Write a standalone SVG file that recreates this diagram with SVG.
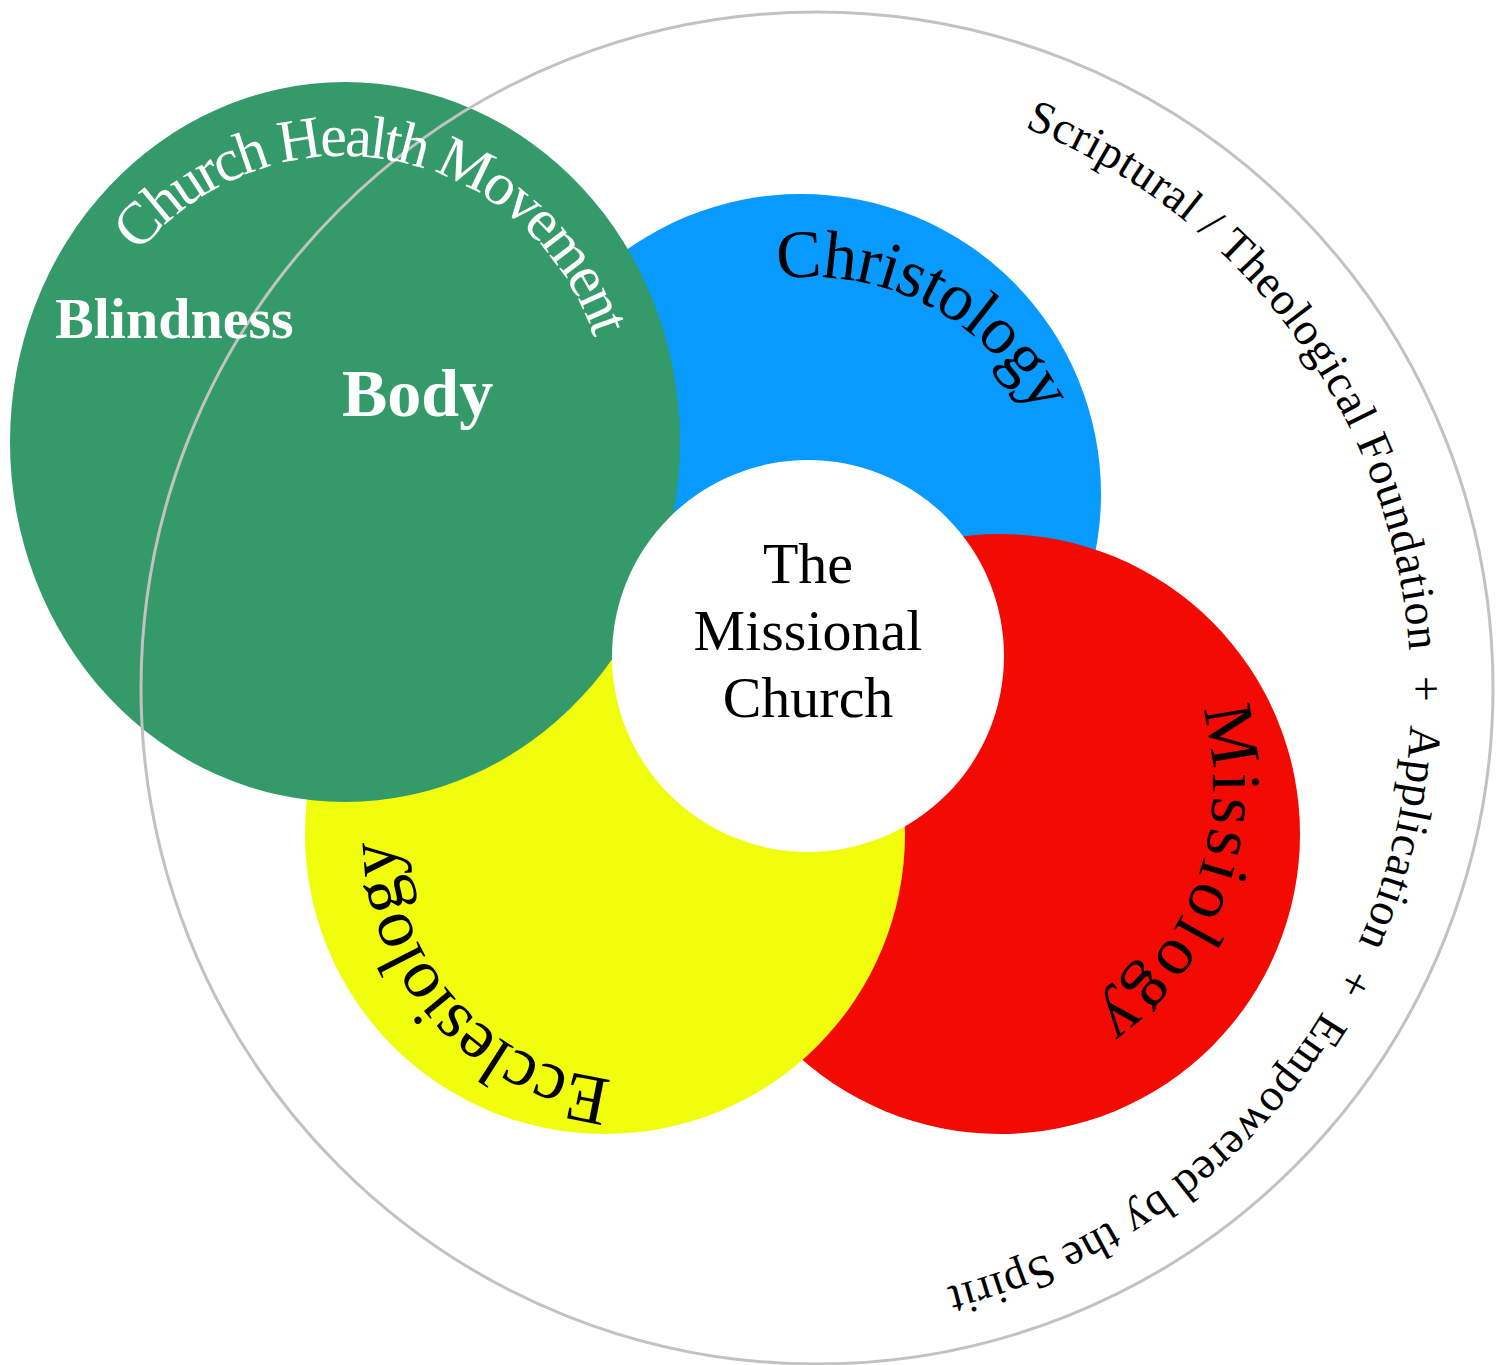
<svg xmlns="http://www.w3.org/2000/svg" width="1502" height="1365" viewBox="0 0 1502 1365">
<style>
.arc{font-family:"Liberation Serif",serif;}
.lbl{font-family:"Liberation Serif",serif;}
</style>
<defs>
<path id="pChrist" d="M777.0,279.1 A256,256 0 0 1 1062.1,488.6"/>
<path id="pMiss" d="M1202.1,708.6 A281,281 0 0 1 1028.1,1050.1"/>
<path id="pEccl" d="M611.8,1079.6 A243,243 0 0 1 398.7,795.8"/>
<path id="pChm" d="M138.6,252.9 A264,264 0 0 1 606.0,397.0"/>
<path id="pOuter" d="M1024.6,127.5 A610,610 0 0 1 854.2,1302.7"/>
</defs>
<rect width="1502" height="1365" fill="#ffffff"/>
<g id="christology">
<circle cx="801" cy="494" r="300" fill="#089AFF"/>
</g>
<g id="missiology">
<circle cx="1000" cy="834" r="300" fill="#F30A02"/>
</g>
<g id="ecclesiology">
<circle cx="605" cy="834" r="300" fill="#F0FD0C"/>
</g>
<g id="church-health">
<ellipse cx="345" cy="442" rx="335" ry="360" fill="#359A6A"/>
</g>
<g id="foundation">
<circle cx="817" cy="688" r="676" fill="none" stroke="#C2C2C2" stroke-width="3"/>
</g>
<g id="missional-church">
<circle cx="808" cy="656" r="196" fill="#ffffff"/>
<text class="lbl" font-size="58" fill="#000" text-anchor="middle" x="808" y="583">The</text>
<text class="lbl" font-size="58" fill="#000" text-anchor="middle" x="808" y="650">Missional</text>
<text class="lbl" font-size="58" fill="#000" text-anchor="middle" x="808" y="717">Church</text>
</g>
<g id="labels">
<text class="arc" font-size="68" fill="#000"><textPath href="#pChrist" textLength="312" lengthAdjust="spacing">Christology</textPath></text>
<text class="arc" font-size="70" fill="#000"><textPath href="#pMiss" textLength="345" lengthAdjust="spacing">Missiology</textPath></text>
<text class="arc" font-size="70" fill="#000"><textPath href="#pEccl" textLength="353" lengthAdjust="spacing">Ecclesiology</textPath></text>
<text class="arc" font-size="60" fill="#fff"><textPath href="#pChm" textLength="565" lengthAdjust="spacing">Church Health Movement</textPath></text>
<text class="arc" font-size="46" fill="#000"><textPath href="#pOuter" textLength="1540" lengthAdjust="spacing">Scriptural / Theological Foundation&#160; +&#160; Application&#160; +&#160; Empowered by the Spirit</textPath></text>
<text class="lbl" font-size="58" font-weight="bold" fill="#fff" x="55" y="338">Blindness</text>
<text class="lbl" font-size="68" font-weight="bold" fill="#fff" x="342" y="416">Body</text>
</g>
<g id="connectors"></g>
</svg>
